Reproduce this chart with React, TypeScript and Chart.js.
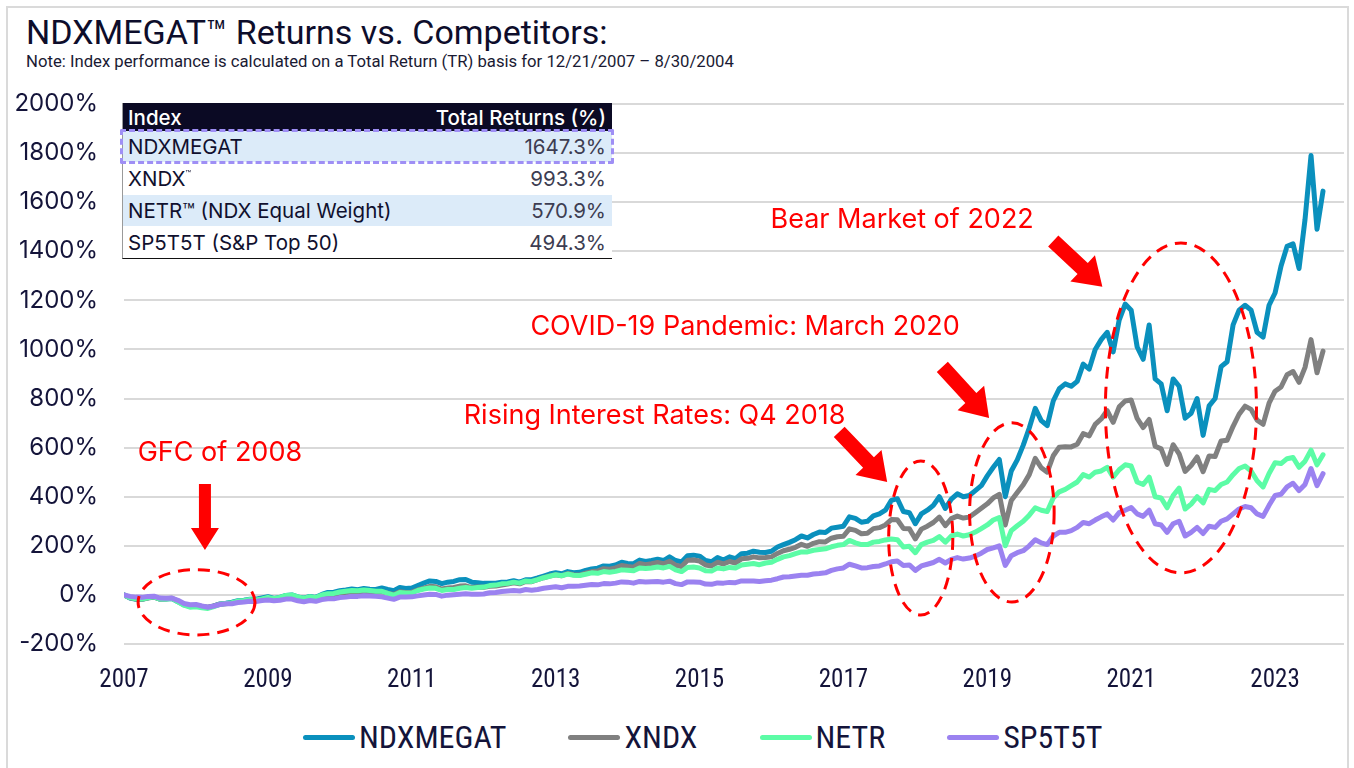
import React, { useEffect, useRef } from 'react';
import { Chart, registerables } from 'chart.js';

Chart.register(...registerables);

// ---------- DATA ----------
const yearLabels = ['2007', '2009', '2011', '2013', '2015', '2017', '2019', '2021', '2023'];
const seriesNames = ['NDXMEGAT', 'XNDX', 'NETR', 'SP5T5T'];
const seriesColors = ['#0a90bd', '#808080', '#5cfca6', '#9b82f0'];

// Monthly cumulative total return (%) from Dec-2007 (index 0) to Aug-2024 (index 200)
const ndxmegat = [
  0,
  -13, -18, -18, -12, -8, -17, -17, -15, -28, -40, -47, -45,
  -48, -51, -45, -37, -34, -30, -24, -22, -18, -17, -12, -7,
  -14, -10, -2, 0, -8, -13, -6, -10, 2, 10, 11, 17,
  20, 24, 21, 26, 23, 22, 28, 22, 17, 30, 26, 28,
  38, 48, 57, 55, 46, 52, 55, 62, 63, 52, 50, 47,
  48, 48, 52, 53, 58, 52, 62, 62, 69, 77, 85, 90,
  86, 95, 90, 92, 100, 106, 109, 118, 117, 122, 133, 128,
  127, 142, 136, 140, 145, 140, 155, 140, 134, 160, 162, 158,
  140, 135, 152, 142, 155, 148, 168, 170, 178, 174, 173, 178,
  195, 205, 214, 225, 240, 232, 246, 256, 254, 272, 276, 280,
  318, 312, 296, 300, 322, 330, 345, 385, 392, 340, 335, 290,
  330, 345, 365, 400, 352, 390, 412, 400, 405, 425, 445, 485,
  520, 552, 400, 505, 550, 610, 680, 760, 710, 690, 790, 840,
  860, 850, 870, 940, 920, 1000, 1040, 1070, 990, 1120, 1185, 1160,
  1010, 960, 1100, 880, 860, 750, 880, 850, 720, 740, 800, 650,
  770, 800, 930, 950, 1100, 1160, 1180, 1160, 1070, 1050, 1180, 1230,
  1340, 1420, 1430, 1330, 1530, 1790, 1490, 1645,
];

const xndx = [
  0,
  -12, -17, -18, -13, -9, -17, -16, -14, -26, -38, -45, -43,
  -47, -50, -45, -38, -36, -33, -28, -27, -23, -23, -19, -12,
  -19, -15, -8, -6, -13, -18, -12, -16, -6, 0, 0, 6,
  9, 13, 11, 15, 13, 11, 13, 7, 2, 13, 10, 11,
  20, 28, 35, 33, 24, 28, 30, 36, 37, 30, 32, 31,
  35, 36, 40, 44, 49, 45, 55, 54, 62, 70, 77, 82,
  78, 87, 82, 81, 89, 95, 97, 107, 105, 110, 120, 116,
  113, 128, 123, 127, 132, 127, 137, 121, 116, 141, 142, 138,
  122, 118, 133, 126, 136, 130, 147, 149, 155, 151, 152, 155,
  169, 180, 186, 194, 206, 198, 210, 217, 216, 231, 237, 239,
  269, 263, 249, 251, 270, 274, 285, 307, 306, 271, 270, 228,
  268, 280, 295, 317, 282, 311, 321, 313, 317, 335, 353, 371,
  395, 410, 285, 385, 417, 449, 490, 556, 518, 500, 567, 602,
  604, 603, 614, 657, 648, 695, 717, 751, 703, 766, 790, 794,
  719, 682, 715, 606, 595, 532, 612, 575, 503, 527, 562, 502,
  566, 564, 627, 630, 687, 736, 769, 756, 712, 695, 781, 830,
  847, 897, 910, 866, 927, 1040, 905, 993,
];

const netr = [
  0,
  -11, -16, -17, -12, -8, -17, -17, -15, -28, -42, -50, -48,
  -52, -55, -48, -38, -35, -32, -25, -23, -19, -21, -16, -10,
  -15, -10, -2, 0, -8, -14, -7, -11, 0, 5, 6, 12,
  15, 18, 17, 20, 18, 15, 15, 6, -1, 10, 8, 8,
  18, 24, 28, 27, 18, 22, 22, 27, 30, 27, 30, 32,
  38, 40, 45, 47, 52, 48, 57, 55, 62, 70, 76, 82,
  78, 85, 80, 79, 84, 90, 88, 95, 92, 96, 102, 100,
  98, 110, 108, 110, 114, 110, 116, 102, 95, 112, 114, 110,
  98, 97, 110, 106, 112, 110, 122, 125, 128, 123, 130, 133,
  145, 155, 160, 168, 175, 175, 182, 185, 188, 196, 202, 205,
  222, 212, 205, 205, 215, 218, 224, 228, 225, 195, 198, 172,
  205, 215, 222, 238, 215, 240, 248, 240, 245, 256, 270, 285,
  305, 315, 200, 262, 282, 300, 325, 355, 345, 340, 395, 420,
  430, 445, 460, 490, 480, 500, 505, 520, 480, 510, 530, 525,
  460, 450, 480, 400, 395, 355, 405, 435, 350, 370, 400, 375,
  430, 425, 450, 460, 490, 515, 525, 505, 465, 440, 495, 538,
  535, 555, 560, 520, 545, 590, 530, 571,
];

const sp5t5t = [
  0,
  -6, -9, -10, -6, -5, -13, -14, -13, -22, -35, -40, -39,
  -45, -50, -45, -39, -36, -36, -31, -29, -26, -27, -23, -21,
  -24, -22, -17, -17, -24, -28, -23, -26, -19, -16, -16, -11,
  -9, -6, -6, -3, -4, -6, -8, -13, -18, -9, -9, -8,
  -4, 0, 3, 2, -5, -1, 1, 3, 5, 3, 3, 4,
  9, 10, 14, 16, 18, 16, 22, 19, 22, 27, 30, 33,
  29, 35, 35, 36, 39, 42, 41, 46, 45, 48, 53, 52,
  48, 55, 53, 54, 55, 52, 56, 46, 42, 53, 53, 52,
  44, 43, 49, 48, 51, 50, 57, 57, 57, 55, 58, 60,
  66, 73, 74, 77, 80, 80, 85, 87, 90, 100, 106, 110,
  125, 118, 110, 111, 116, 118, 126, 135, 138, 120, 122, 100,
  118, 125, 132, 145, 130, 145, 152, 146, 150, 158, 170, 185,
  192, 200, 120, 160, 172, 180, 200, 225, 212, 205, 240, 255,
  255, 262, 275, 295, 290, 305, 318, 330, 305, 335, 345, 356,
  330, 320, 345, 290, 285, 255, 290, 300, 240, 255, 275, 250,
  280, 275, 300, 310, 330, 350, 360, 355, 330, 320, 365, 405,
  410, 440, 455, 425, 450, 515, 445, 494,
];

const seriesValues = [ndxmegat, xndx, netr, sp5t5t];

// Summary table
const tableNames = ['NDXMEGAT', 'XNDX', 'NETR™ (NDX Equal Weight)', 'SP5T5T (S&P Top 50)'];
const tableSups = ['', '™', '', ''];
const tableReturns = ['1647.3%', '993.3%', '570.9%', '494.3%'];

// Annotations in data units (month index, return %)
const annTexts = ['GFC of 2008', 'Rising Interest Rates: Q4 2018', 'COVID-19 Pandemic: March 2020', 'Bear Market of 2022'];
const annTextPos = [
  { m: 16, v: 578 },
  { m: 88.5, v: 729 },
  { m: 103.6, v: 1092 },
  { m: 129.8, v: 1527 },
];
const annEllipses = [
  { m: 12.1, v: -30, rm: 9.75, rv: 133 },
  { m: 132.9, v: 232, rm: 5.35, rv: 314 },
  { m: 148.1, v: 336, rm: 7.05, rv: 365 },
  { m: 176.3, v: 762, rm: 12.6, rv: 672 },
];
const annArrows = [
  { m1: 13.5, v1: 452, m2: 13.5, v2: 183, sw: 12, hw: 28, hl: 22 },
  { m1: 119.3, v1: 664, m2: 127.3, v2: 460, sw: 15, hw: 36, hl: 27 },
  { m1: 136.5, v1: 929, m2: 144.3, v2: 721, sw: 15, hw: 36, hl: 27 },
  { m1: 155.0, v1: 1442, m2: 163.2, v2: 1255, sw: 15, hw: 36, hl: 27 },
];

const RED = '#ff0000';
const INK = '#14143a';
const NARROW = '"Liberation Sans Narrow", "Roboto Condensed", "DejaVu Sans Condensed", Roboto, sans-serif';

const annotationPlugin = {
  id: 'redAnnotations',
  afterDatasetsDraw(chart: any) {
    const { ctx } = chart;
    const xs = chart.scales.x;
    const ys = chart.scales.y;
    ctx.save();
    ctx.strokeStyle = RED;
    ctx.lineWidth = 3;
    ctx.setLineDash([12, 8]);
    for (const e of annEllipses) {
      const cx = xs.getPixelForValue(e.m);
      const cy = ys.getPixelForValue(e.v);
      const rx = Math.abs(xs.getPixelForValue(e.m + e.rm) - cx);
      const ry = Math.abs(ys.getPixelForValue(e.v + e.rv) - cy);
      ctx.beginPath();
      ctx.ellipse(cx, cy, rx, ry, 0, 0, Math.PI * 2);
      ctx.stroke();
    }
    ctx.setLineDash([]);
    ctx.fillStyle = RED;
    for (const a of annArrows) {
      const x1 = xs.getPixelForValue(a.m1);
      const y1 = ys.getPixelForValue(a.v1);
      const x2 = xs.getPixelForValue(a.m2);
      const y2 = ys.getPixelForValue(a.v2);
      const dx = x2 - x1;
      const dy = y2 - y1;
      const len = Math.hypot(dx, dy);
      const ux = dx / len;
      const uy = dy / len;
      const nx = -uy;
      const ny = ux;
      const bx = x2 - ux * a.hl;
      const by = y2 - uy * a.hl;
      ctx.beginPath();
      ctx.moveTo(x1 + nx * a.sw / 2, y1 + ny * a.sw / 2);
      ctx.lineTo(bx + nx * a.sw / 2, by + ny * a.sw / 2);
      ctx.lineTo(bx + nx * a.hw / 2, by + ny * a.hw / 2);
      ctx.lineTo(x2, y2);
      ctx.lineTo(bx - nx * a.hw / 2, by - ny * a.hw / 2);
      ctx.lineTo(bx - nx * a.sw / 2, by - ny * a.sw / 2);
      ctx.lineTo(x1 - nx * a.sw / 2, y1 - ny * a.sw / 2);
      ctx.closePath();
      ctx.fill();
    }
    ctx.font = '27px Inter, Roboto, sans-serif';
    ctx.textAlign = 'center';
    ctx.textBaseline = 'middle';
    annTexts.forEach((t, i) => {
      const p = annTextPos[i];
      ctx.fillText(t, xs.getPixelForValue(p.m), ys.getPixelForValue(p.v));
    });
    ctx.restore();
  },
};

export default function App() {
  const canvasRef = useRef<HTMLCanvasElement | null>(null);

  useEffect(() => {
    const canvas = canvasRef.current;
    if (!canvas) return;
    const chart = new Chart(canvas, {
      type: 'line',
      data: {
        datasets: seriesNames.map((name, k) => ({
          label: name,
          data: seriesValues[k].map((v, i) => ({ x: i, y: v })),
          borderColor: seriesColors[k],
          backgroundColor: seriesColors[k],
          borderWidth: 5,
          pointRadius: 0,
          tension: 0,
          borderJoinStyle: 'round' as const,
          borderCapStyle: 'round' as const,
          order: 4 - k,
        })),
      },
      options: {
        animation: false,
        responsive: false,
        devicePixelRatio: 1,
        layout: { padding: { top: 14, right: 10, left: 0, bottom: 0 } },
        plugins: {
          legend: { display: false },
          tooltip: { enabled: false },
        },
        scales: {
          x: {
            type: 'linear',
            min: 0,
            max: 203.5,
            afterFit: (s: any) => { s.height = 66; s.paddingLeft = 0; s.paddingRight = 0; },
            grid: { display: false },
            border: { display: false },
            ticks: {
              stepSize: 24,
              includeBounds: false,
              autoSkip: false,
              maxRotation: 0,
              padding: 14,
              color: INK,
              font: { family: NARROW, size: 25 },
              callback: (v: any) => (Number(v) % 24 === 0 ? yearLabels[Number(v) / 24] ?? '' : ''),
            },
          },
          y: {
            min: -200,
            max: 2000,
            afterFit: (s: any) => { s.width = 124; s.paddingTop = 0; s.paddingBottom = 0; },
            grid: { color: '#d9d9d9', lineWidth: 2, drawTicks: false },
            border: { display: false },
            ticks: {
              stepSize: 200,
              padding: 26,
              color: INK,
              font: { family: 'Inter, sans-serif', size: 24 },
              callback: (v: any) => `${v}%`,
            },
          },
        },
      },
      plugins: [annotationPlugin],
    } as any);
    return () => chart.destroy();
  }, []);

  return (
    <div style={{ position: 'fixed', left: 0, top: 0, width: 1354, height: 768, background: '#ffffff', overflow: 'hidden' }}>
      <div style={{ position: 'absolute', left: 6, top: 6, width: 1343, height: 790, border: '2px solid #dadada', boxSizing: 'border-box' }} />
      <div style={{ position: 'absolute', left: 26, top: 15, fontFamily: 'Roboto, sans-serif', fontSize: 34, lineHeight: '34px', color: '#0d0d2b', whiteSpace: 'nowrap' }}>
        NDXMEGAT™ Returns vs. Competitors:
      </div>
      <div style={{ position: 'absolute', left: 26, top: 54, fontFamily: 'Roboto, sans-serif', fontSize: 16.7, lineHeight: '16px', color: '#1a1a33', whiteSpace: 'nowrap' }}>
        Note: Index performance is calculated on a Total Return (TR) basis for 12/21/2007 – 8/30/2004
      </div>
      <canvas ref={canvasRef} width={1354} height={620} style={{ position: 'absolute', left: 0, top: 90, width: 1354, height: 620 }} />

      {/* summary table */}
      <div style={{ position: 'absolute', left: 122, top: 103, width: 490, background: '#ffffff', fontFamily: 'Inter, sans-serif', fontSize: 20.5, color: '#10102e', borderBottom: '1.5px solid #111', borderLeft: '1px solid #9a9a9a', boxSizing: 'border-box' }}>
        <div style={{ height: 28, background: '#0b0a24', color: '#ffffff', display: 'flex', justifyContent: 'space-between', alignItems: 'center', padding: '0 6px 0 5px', fontWeight: 500 }}>
          <span>Index</span>
          <span>Total Returns (%)</span>
        </div>
        {tableNames.map((n, i) => (
          <div key={n} style={{ height: 31, marginTop: i === 0 ? 0 : 1, background: i % 2 === 0 ? '#dcebf9' : '#ffffff', display: 'flex', justifyContent: 'space-between', alignItems: 'center', padding: '0 6px 0 5px' }}>
            <span>
              {n}
              {tableSups[i] ? <sup style={{ fontSize: 9, verticalAlign: 'top', position: 'relative', top: 2 }}>{tableSups[i]}</sup> : null}
            </span>
            <span style={{ color: '#3d3d52' }}>{tableReturns[i]}</span>
          </div>
        ))}
      </div>
      <div style={{ position: 'absolute', left: 120, top: 129, width: 494, height: 35, border: '3px dashed #9f8ff5', boxSizing: 'border-box', borderRadius: 2 }} />

      {/* legend */}
      <div style={{ position: 'absolute', left: 303, top: 722, height: 30, display: 'flex', alignItems: 'center' }}>
        {seriesNames.map((n, k) => (
          <div key={n} style={{ display: 'flex', alignItems: 'center', marginRight: k < seriesNames.length - 1 ? 62 : 0 }}>
            <span style={{ display: 'inline-block', width: 52, height: 5, background: seriesColors[k], borderRadius: 3, marginRight: 4 }} />
            <span style={{ fontFamily: NARROW, fontSize: 32, color: INK, lineHeight: '30px' }}>{n}</span>
          </div>
        ))}
      </div>
    </div>
  );
}
